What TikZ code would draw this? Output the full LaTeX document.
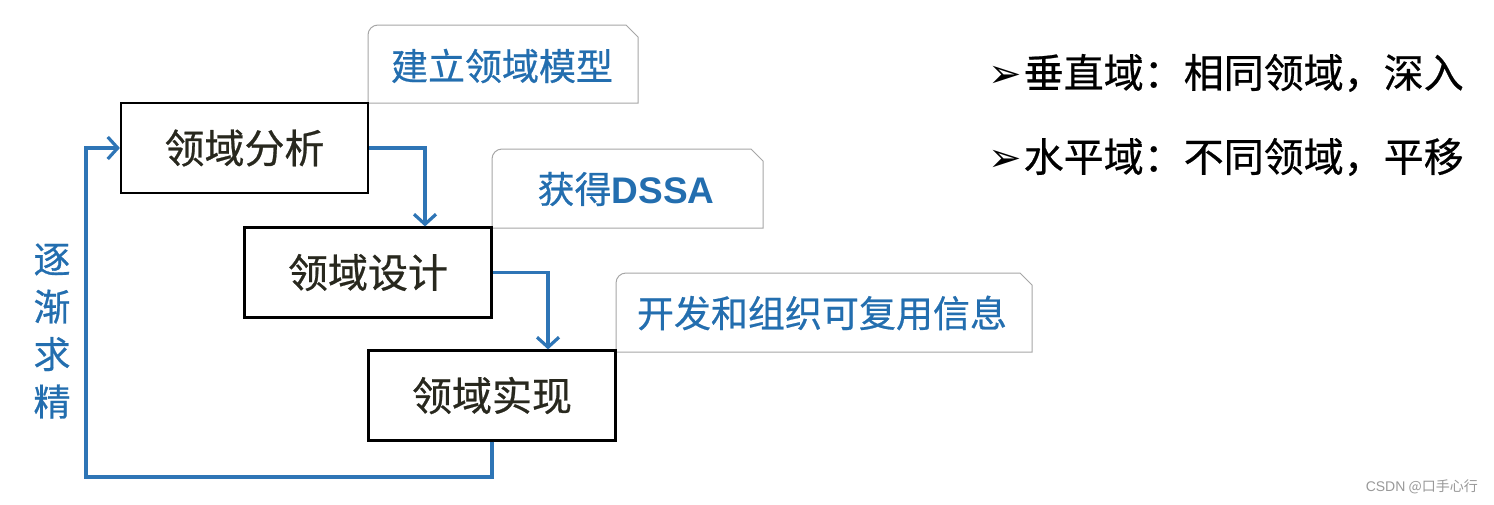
\documentclass[tikz,border=0pt]{standalone}
\usepackage{fontspec}
\newfontfamily\cjk{Noto Sans CJK SC}
\newfontfamily\cjkm{Noto Sans CJK SC}[FakeBold=0.6]
\newfontfamily\lat{Liberation Sans}
\newfontfamily\sym{DejaVu Sans}
\usetikzlibrary{arrows.meta,calc}
\definecolor{flowblue}{RGB}{46,117,182}
\definecolor{txtblue}{RGB}{35,110,175}
\definecolor{boxtxt}{RGB}{40,40,30}
\begin{document}
\begin{tikzpicture}[x=1pt,y=-1pt,
  stage/.style={draw=black,line width=2.2pt,fill=white,minimum width=247pt,minimum height=90pt,inner sep=0pt,
    font=\cjkm\fontsize{40}{44}\selectfont,text=boxtxt},
  note/.style={draw=gray!70,line width=1pt,fill=white},
  notetext/.style={font=\cjkm\fontsize{37}{40}\selectfont,text=txtblue,inner sep=0pt},
  flow/.style={draw=flowblue,line width=3.2pt,-{Straight Barb[length=10pt,width=22pt,line width=3.2pt]}},
  side/.style={font=\cjkm\fontsize{40}{44}\selectfont,text=black,anchor=west,inner sep=0pt}]
\useasboundingbox (0,0) rectangle (1494,504);
\fill[white] (0,0) rectangle (1494,504);
% callout shapes
\path[note] (368,103) [rounded corners=10pt] -- (368,25) [sharp corners] -- (626,25) -- (638,37) -- (638,103) -- cycle;
\path[note] (492,228) [rounded corners=10pt] -- (492,149) [sharp corners] -- (751,149) -- (763,161) -- (763,228) -- cycle;
\path[note] (616,352) [rounded corners=10pt] -- (616,273) [sharp corners] -- (1020,273) -- (1032,285) -- (1032,352) -- cycle;
\node[notetext] (n1) at (502,66) {建立领域模型};
\node[notetext] (n2) at (626,189) {获得{\lat\bfseries DSSA}};
\node[notetext] (n3) at (822,313) {开发和组织可复用信息};
% stages
\node[stage] (a) at (244.5,148) {领域分析};
\node[stage] (b) at (368,272.5) {领域设计};
\node[stage] (c) at (492,395.5) {领域实现};
% connectors
\draw[flow] (a.east) -| ([xshift=57pt]b.north);
\draw[flow] (b.east) -| ([xshift=56pt]c.north);
\coordinate (fb) at (86,477);
\draw[flow] (c.south) |- (fb) |- (a.west);
% vertical label
\node[font=\cjkm\fontsize{37}{47.5}\selectfont,text=txtblue,align=center,inner sep=0pt] (v) at (52,331) {逐\\渐\\求\\精};
% right text
\node[side] (s1) at (988,73) {{\sym\fontsize{40}{44}\selectfont ➢}\hspace{2pt}垂直域：相同领域，深入};
\node[side] (s2) at (988,157) {{\sym\fontsize{40}{44}\selectfont ➢}\hspace{2pt}水平域：不同领域，平移};
% watermark
\node[font=\cjk\fontsize{14}{16}\selectfont,text=gray!80,anchor=east,inner sep=0pt] (w) at (1478,487) {{\lat CSDN} @口手心行};
\end{tikzpicture}
\end{document}
